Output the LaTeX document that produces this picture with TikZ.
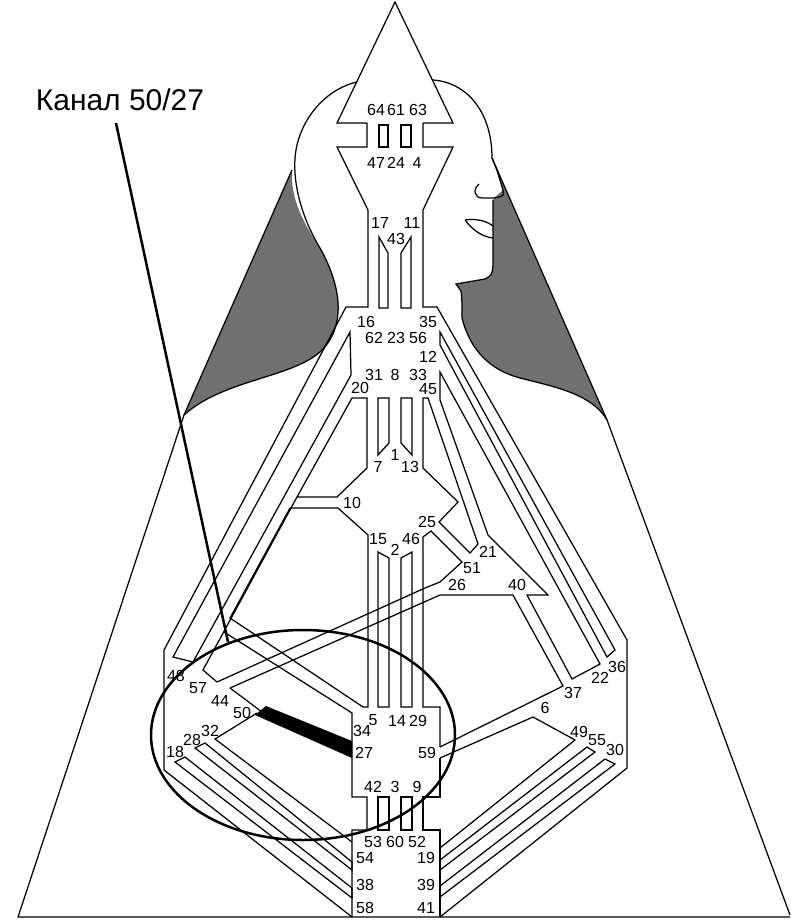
\documentclass[tikz,border=0pt]{standalone}
\usepackage{fontspec}
\setmainfont{Liberation Sans}
\definecolor{hair}{RGB}{112,112,112}
\begin{document}
\begin{tikzpicture}[x=1pt,y=-1pt,
  ol/.style={line width=1.25pt,line join=miter},
  num/.style={inner sep=0pt,font=\fontsize{16}{16}\selectfont},
  big/.style={inner sep=0pt,font=\fontsize{30}{30}\selectfont}]
\useasboundingbox (0,0) rectangle (790,920);
% hair fills
\fill[hair] (292,170) .. controls (290,200) and (305,225) .. (320,248) .. controls (338,280) and (348,320) .. (324,348) .. controls (297,378) and (225,378) .. (184,415) -- cycle;
\fill[hair] (492,158) -- (503,190) -- (494,198) -- (493,200) -- (493,265) .. controls (492,275) .. (485,279) -- (456,284) -- (461,291) .. controls (462,300) .. (462,318) .. controls (470,350) and (490,370) .. (520,378) .. controls (560,388) and (592,395) .. (607,420) -- cycle;
% head outline
\draw[ol] (357,82) .. controls (330,88) and (305,112) .. (297,145) .. controls (290,175) and (300,215) .. (320,248) .. controls (338,280) and (348,320) .. (324,348) .. controls (297,378) and (225,378) .. (184,415);
\draw[ol] (433,80) .. controls (465,82) and (492,110) .. (492,158) -- (497,170) -- (503,190) .. controls (504,196) .. (494,198) -- (482,198);
\draw[ol] (479,184) .. controls (472,190) and (475,198) .. (482,198);
\draw[ol] (493,200) -- (493,265) .. controls (492,275) .. (485,279) -- (456,284) -- (461,291) .. controls (462,300) .. (462,318) .. controls (470,350) and (490,370) .. (520,378) .. controls (560,388) and (592,395) .. (607,420);
\draw[ol] (465,220) .. controls (478,218) and (488,222) .. (493,226);
\draw[ol] (465,220) .. controls (474,232) and (484,237) .. (493,238);
% outer triangle
\draw[ol] (292,170) -- (184,415) -- (18,917) -- (790,917);
\draw[ol] (492,158) -- (607,420) -- (790,915);
% body graph
\draw[ol] (367,123) -- (337,123) -- (395,2) -- (453,123) -- (423,123);
\draw[ol] (367,123) -- (367,147) -- (337,147) -- (368,210) -- (368,307) -- (346,307) -- (164,650) -- (164,770) -- (352,917);
\draw[ol] (423,123) -- (423,147) -- (453,147) -- (423,210) -- (423,307) -- (437,307) -- (627,640) -- (627,768) -- (440,917);
\draw[ol] (379,125) rectangle (388,147);
\draw[ol] (401,125) rectangle (411,147);
\draw[ol] (379,237) -- (388,253) -- (388,308) -- (379,308) -- cycle;
\draw[ol] (411,237) -- (401,253) -- (401,308) -- (411,308) -- cycle;
\draw[ol] (350,332) -- (351,375) -- (193,662) -- (173,657) -- cycle;
\draw[ol] (352,398) -- (367,398) -- (367,468) -- (337,497) -- (297,497) -- cycle;
\draw[ol] (297,497) -- (203,670) -- (217,682);
\draw[ol] (378,398) -- (389,398) -- (389,443) -- (378,455) -- cycle;
\draw[ol] (401,398) -- (412,398) -- (412,455) -- (401,443) -- cycle;
\draw[ol] (423,398) -- (423,468) -- (458,502) -- (439,522) -- (470,553) -- (478,544) -- (428,398) -- cycle;
\draw[ol] (440,332) -- (615,650) -- (607,657) -- (440,345) -- cycle;
\draw[ol] (440,372) -- (600,664) -- (572,679) -- (527,595) -- (548,595) -- (488,535) -- (440,400) -- cycle;
\draw[ol] (290,508) -- (338,508) -- (368,535) -- (368,707) -- (363,707) -- (230,618) -- cycle;
\draw[ol] (224,632) -- (352,713) -- (352,797) -- (367,797) -- (367,830) -- (352,830) -- (352,917);
\draw[ol] (217,682) -- (425,588) -- (440,582) -- (462,562) -- (431,531) -- (423,537) -- (423,707) -- (440,707) -- (440,747);
\draw[ol] (230,688) -- (440,595) -- (513,595) -- (563,686) -- (440,747);
\draw[ol] (230,688) -- (262,712);
\draw[ol] (257,713) -- (215,739) -- (352,842);
\draw[ol] (195,748) -- (205,743) -- (352,862) -- (352,870) -- cycle;
\draw[ol] (175,762) -- (185,757) -- (352,888) -- (352,898) -- cycle;
\draw[ol] (440,758) -- (533,717) -- (575,740) -- (440,848);
\draw[ol] (440,758) -- (440,797) -- (423,797) -- (423,830) -- (440,830) -- (440,917);
\draw[ol] (587,747) -- (595,752) -- (440,870) -- (440,860) -- cycle;
\draw[ol] (605,759) -- (615,764) -- (440,897) -- (440,886) -- cycle;
\draw[ol] (378,552) -- (389,558) -- (389,707) -- (378,707) -- cycle;
\draw[ol] (412,552) -- (401,558) -- (401,707) -- (412,707) -- cycle;
\draw[ol] (378,797) rectangle (389,830);
\draw[ol] (401,797) rectangle (412,830);
% highlighted channel 50/27
\fill (255,715) -- (266,706) -- (352,741) -- (352,758) -- cycle;
% labels
\foreach \t/\x/\y in {64/376/110,61/396/110,63/418/110,47/376/163,24/396/163,4/417/163,
 17/380/223,11/412/223,43/396/239,16/366/322,35/428/322,62/374/338,23/396/338,56/418/338,
 12/428/357,31/374/375,8/395/375,33/418/375,20/360/388,45/428/389,7/378/467,1/395/455,13/410/467,
 10/352/503,25/427/522,15/378/539,2/395/550,46/411/539,21/488/552,51/472/568,26/457/585,40/517/585,
 48/176/676,57/198/688,44/220/701,50/242/713,34/362/731,5/373/720,14/397/721,29/418/721,27/364/753,
 59/427/753,32/210/731,28/192/740,18/175/752,42/373/787,3/395/787,9/417/787,53/373/842,60/395/842,
 52/417/842,54/365/858,38/365/885,58/365/908,19/426/858,39/426/885,41/426/908,6/545/708,37/573/693,
 22/600/678,36/617/667,49/579/732,55/597/740,30/615/750}
 \node[num] (g\t) at (\x,\y) {\t};
% ellipse and pointer
\draw[line width=2.5pt] (303,735) ellipse [x radius=152, y radius=105];
\node[big] (lab) at (120,100) {Канал 50/27};
\coordinate (ptop) at (116,123);
\coordinate (ptip) at (228,642);
\draw[line width=2.5pt] (ptop) -- (ptip);
\end{tikzpicture}
\end{document}
